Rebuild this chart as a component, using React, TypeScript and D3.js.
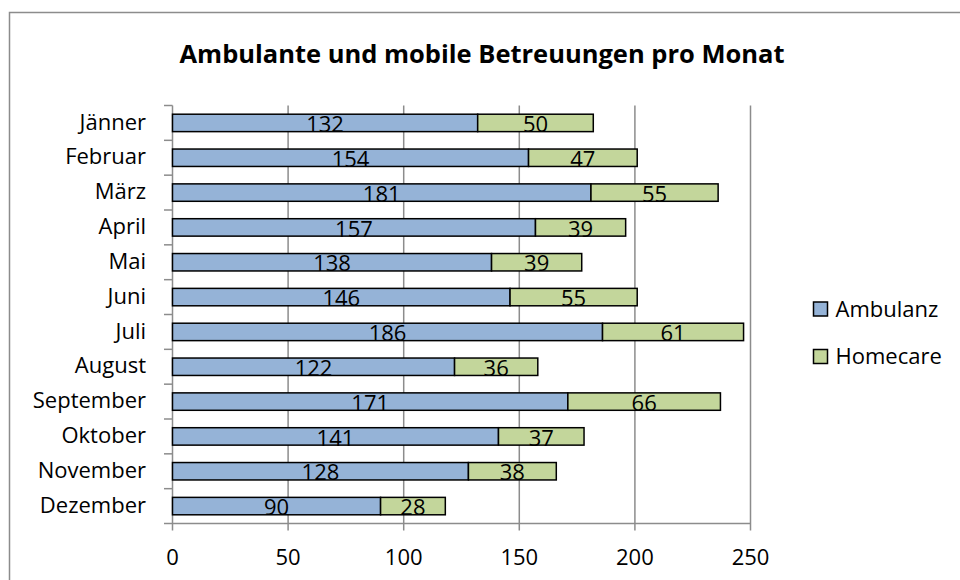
import React from 'react';
import * as d3 from 'd3';

const months = ['Jänner', 'Februar', 'März', 'April', 'Mai', 'Juni', 'Juli', 'August', 'September', 'Oktober', 'November', 'Dezember'];
const ambulanz = [132, 154, 181, 157, 138, 146, 186, 122, 171, 141, 128, 90];
const homecare = [50, 47, 55, 39, 39, 55, 61, 36, 66, 37, 38, 28];
const xTicks = [0, 50, 100, 150, 200, 250];
const seriesNames = ['Ambulanz', 'Homecare'];

const colors = ['#95b3d7', '#c3d69b'];
const font = 'Open Sans, sans-serif';

const App: React.FC = () => {
  const width = 960, height = 580;
  const x = d3.scaleLinear().domain([0, 250]).range([172.5, 750.5]);
  const y = d3.scaleBand<string>().domain(months).range([105.5, 523.5]).paddingInner(0.5).paddingOuter(0.25);
  const band = (523.5 - 105.5) / months.length;
  const rows = months.map((m, i) => ({ m, a: ambulanz[i], h: homecare[i] }));

  return (
    <svg width={width} height={height} style={{ position: 'absolute', left: 0, top: 0 }} fontFamily={font}>
      <rect x={0} y={0} width={width} height={height} fill="#fff" />
      <rect x={9.5} y={12.5} width={width + 20} height={height + 20} fill="none" stroke="#8c8c8c" strokeWidth={1.5} />
      <text x={482} y={63} textAnchor="middle" fontSize={25.5} fontWeight="bold" fill="#000">
        Ambulante und mobile Betreuungen pro Monat
      </text>

      {/* gridlines */}
      {xTicks.map(t => (
        <line key={t} x1={x(t)} x2={x(t)} y1={105.5} y2={530.5} stroke="#8c8c8c" strokeWidth={1.5} />
      ))}
      <line x1={x(0)} x2={x(250)} y1={523.5} y2={523.5} stroke="#8c8c8c" strokeWidth={1.5} />
      {/* y ticks */}
      {d3.range(months.length + 1).map(i => (
        <line key={i} x1={164} x2={x(0)} y1={105.5 + i * band} y2={105.5 + i * band} stroke="#8c8c8c" strokeWidth={1.5} />
      ))}
      {xTicks.map(t => (
        <text key={t} x={x(t)} y={565} textAnchor="middle" fontSize={22} fill="#000">{t}</text>
      ))}

      {rows.map(r => {
        const y0 = y(r.m)!;
        const bh = y.bandwidth();
        return (
          <g key={r.m}>
            <text x={146} y={y0 + bh / 2} dy="0.3em" textAnchor="end" fontSize={22} fill="#000">{r.m}</text>
            <rect x={x(0)} y={y0} width={x(r.a) - x(0)} height={bh} fill={colors[0]} stroke="#000" strokeWidth={1.5} />
            <rect x={x(r.a)} y={y0} width={x(r.a + r.h) - x(r.a)} height={bh} fill={colors[1]} stroke="#000" strokeWidth={1.5} />
            <text x={(x(0) + x(r.a)) / 2} y={y0 + bh / 2} dy="0.42em" textAnchor="middle" fontSize={22} fill="#000">{r.a}</text>
            <text x={(x(r.a) + x(r.a + r.h)) / 2} y={y0 + bh / 2} dy="0.42em" textAnchor="middle" fontSize={22} fill="#000">{r.h}</text>
          </g>
        );
      })}

      {seriesNames.map((s, i) => (
        <g key={s} transform={`translate(813.5, ${302 + i * 47.5})`}>
          <rect x={0} y={0} width={14} height={14} fill={colors[i]} stroke="#000" strokeWidth={1.5} />
          <text x={22} y={7} dy="0.36em" fontSize={22} fill="#000">{s}</text>
        </g>
      ))}
    </svg>
  );
};

export default App;
